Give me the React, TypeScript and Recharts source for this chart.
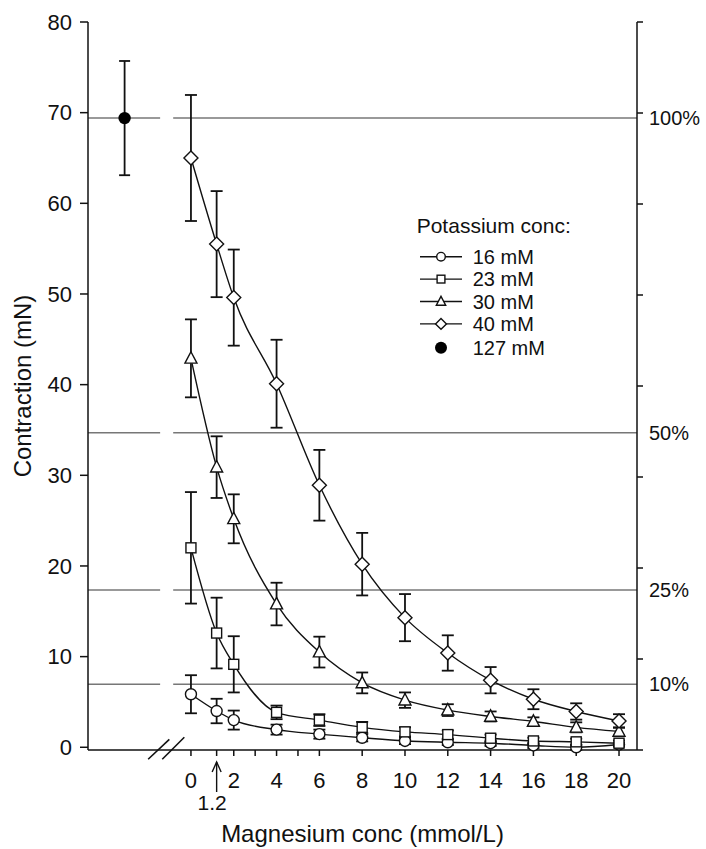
import React from "react";
import { ComposedChart, Line, Scatter, XAxis, YAxis, ErrorBar, ReferenceLine, Legend } from "recharts";

// Magnesium concentrations (mmol/L)
const MG = [0, 1.2, 2, 4, 6, 8, 10, 12, 14, 16, 18, 20];

// contraction (mN) per potassium concentration, mean and SEM
const K16 = [5.85, 4.0, 3.0, 1.95, 1.45, 1.05, 0.7, 0.55, 0.45, 0.2, 0.0, 0.3];
const K16_SEM = [2.1, 1.35, 1.05, 0.55, 0.5, 0.4, 0.35, 0.3, 0.3, 0.3, 0.3, 0.2];
const K23 = [22.0, 12.6, 9.15, 3.85, 3.0, 2.2, 1.7, 1.4, 1.0, 0.7, 0.6, 0.45];
const K23_SEM = [6.15, 3.9, 3.1, 0.75, 0.65, 0.6, 0.5, 0.45, 0.4, 0.35, 0.35, 0.3];
const K30 = [42.9, 30.9, 25.2, 15.8, 10.5, 7.1, 5.2, 4.1, 3.4, 2.85, 2.2, 1.75];
const K30_SEM = [4.3, 3.4, 2.7, 2.35, 1.7, 1.15, 0.85, 0.65, 0.55, 0.45, 0.55, 0.45];
const K40 = [65.0, 55.5, 49.6, 40.1, 28.9, 20.2, 14.3, 10.4, 7.4, 5.3, 3.95, 2.9];
const K40_SEM = [6.95, 5.85, 5.3, 4.85, 3.9, 3.45, 2.6, 1.95, 1.45, 1.1, 0.9, 0.75];

// 127 mM control, drawn left of the axis break
const CONTROL_MEAN = 69.4;
const CONTROL_SEM = 6.3;
const CONTROL_X = -3.1;

const PERCENTS = [100, 50, 25, 10];
const X_TICKS = [0, 1.2, 2, 3, 4, 5, 6, 8, 10, 12, 14, 16, 18, 20];
const Y_TICKS = [0, 10, 20, 30, 40, 50, 60, 70, 80];
const ARROW_TICK = 1.2;

const X_DOMAIN = [-4.81, 20.84];
const BREAK_GAP = [-1.44, -0.83];
const BREAK_MARKS = [
  [{ x: -2.0, y: -1.32 }, { x: -1.01, y: 0.88 }],
  [{ x: -1.34, y: -1.32 }, { x: -0.31, y: 1.1 }],
];

const INK = "#111";
const FONT = '"Liberation Sans", Arial, sans-serif';

const SERIES = [
  { key: "k16", label: "16 mM", values: K16, sem: K16_SEM, shape: "circle", size: 11 },
  { key: "k23", label: "23 mM", values: K23, sem: K23_SEM, shape: "square", size: 10 },
  { key: "k30", label: "30 mM", values: K30, sem: K30_SEM, shape: "triangle", size: 12 },
  { key: "k40", label: "40 mM", values: K40, sem: K40_SEM, shape: "diamond", size: 14 },
];

const rows = MG.map((mg, i) => {
  const r: Record<string, number> = { mg, pct: 0 };
  SERIES.forEach((s) => {
    r[s.key] = s.values[i];
    r[s.key + "Err"] = s.sem[i];
  });
  return r;
});

const control = [{ mg: CONTROL_X, ctrl: CONTROL_MEAN, ctrlErr: CONTROL_SEM }];

function Marker({ shape, cx, cy, size, fill = "#fff" }: any) {
  const h = size / 2;
  const common = { fill, stroke: INK, strokeWidth: 1.4 };
  if (shape === "circle") return <circle cx={cx} cy={cy} r={h} {...common} />;
  if (shape === "square") return <rect x={cx - h} y={cy - h} width={size} height={size} {...common} />;
  if (shape === "triangle")
    return <polygon points={`${cx},${cy - size * 0.55} ${cx + h},${cy + size * 0.4} ${cx - h},${cy + size * 0.4}`} {...common} />;
  return <polygon points={`${cx},${cy - h} ${cx + h},${cy} ${cx},${cy + h} ${cx - h},${cy}`} {...common} />;
}

function MgTick({ x, y, payload }: any) {
  const v = payload.value;
  if (v === ARROW_TICK) {
    return (
      <g stroke={INK} strokeWidth={1.4}>
        <line x1={x} y1={y + 4} x2={x} y2={y + 34} />
        <polyline points={`${x - 4.5},${y + 14} ${x},${y + 4} ${x + 4.5},${y + 14}`} fill="none" />
        <text x={x - 4.5} y={y + 37} dy="0.71em" textAnchor="middle" fontSize={21} fill={INK} stroke="none">
          {v}
        </text>
      </g>
    );
  }
  if (v % 2 !== 0) return <g />;
  return (
    <text x={x} y={y + 14} dy="0.71em" textAnchor="middle" fontSize={22} fill={INK}>
      {v}
    </text>
  );
}

function BlankTick() {
  return <g />;
}

function KeyBox() {
  const rowY = (i: number) => 44.7 + i * 22.4;
  return (
    <svg width={200} height={150} style={{ display: "block", overflow: "visible", fontFamily: FONT }}>
      <text x={6.7} y={21} fontSize={21} fill={INK}>
        Potassium conc:
      </text>
      {SERIES.map((s, i) => (
        <g key={s.key}>
          <line x1={10} x2={52} y1={rowY(i)} y2={rowY(i)} stroke={INK} strokeWidth={1.4} />
          <Marker shape={s.shape} cx={31} cy={rowY(i)} size={s.size * 0.78} />
          <text x={62.7} y={rowY(i)} dy="0.36em" fontSize={20} fill={INK}>
            {s.label}
          </text>
        </g>
      ))}
      <circle cx={31} cy={rowY(4) + 1.5} r={6} fill="#000" />
      <text x={62.7} y={rowY(4) + 1.5} dy="0.36em" fontSize={20} fill={INK}>
        127 mM
      </text>
    </svg>
  );
}

export default function App() {
  return (
    <div style={{ position: "absolute", left: 0, top: 0, width: 706, height: 849, background: "#fff", fontFamily: FONT }}>
      <ComposedChart width={706} height={849} data={rows} margin={{ top: 22, right: 9, bottom: 0, left: 8 }}>
        {PERCENTS.map((p) => {
          const y = (CONTROL_MEAN * p) / 100;
          return (
            <React.Fragment key={p}>
              <ReferenceLine
                yAxisId="left"
                segment={[{ x: X_DOMAIN[0], y }, { x: BREAK_GAP[0], y }]}
                stroke="#777"
                strokeWidth={1.5}
              />
              <ReferenceLine
                yAxisId="left"
                segment={[{ x: BREAK_GAP[1], y }, { x: X_DOMAIN[1], y }]}
                stroke="#777"
                strokeWidth={1.5}
                label={{ value: `${p}%`, position: "right", offset: 12, fill: INK, fontSize: 20 }}
              />
            </React.Fragment>
          );
        })}
        {BREAK_MARKS.map((seg, i) => (
          <ReferenceLine key={`brk${i}`} yAxisId="left" segment={seg} ifOverflow="visible" stroke={INK} strokeWidth={1.6} />
        ))}
        <XAxis
          dataKey="mg"
          type="number"
          domain={X_DOMAIN}
          ticks={X_TICKS}
          interval={0}
          allowDataOverflow
          height={99}
          tickSize={6}
          tick={<MgTick />}
          axisLine={{ stroke: INK, strokeWidth: 1.5 }}
          tickLine={{ stroke: INK, strokeWidth: 1.5 }}
          label={{ value: "Magnesium conc (mmol/L)", position: "insideBottom", offset: 7, fontSize: 24, fill: INK }}
        />
        <YAxis
          yAxisId="left"
          domain={[0, 80]}
          ticks={Y_TICKS}
          width={80}
          tickSize={8}
          tickMargin={8}
          tick={{ fontSize: 22, fill: INK }}
          axisLine={{ stroke: INK, strokeWidth: 1.5 }}
          tickLine={{ stroke: INK, strokeWidth: 1.5 }}
          label={{
            value: "Contraction (mN)",
            angle: -90,
            position: "insideLeft",
            offset: 14,
            style: { textAnchor: "middle" },
            fontSize: 24,
            fill: INK,
          }}
        />
        <YAxis
          yAxisId="right"
          orientation="right"
          domain={[0, 80]}
          ticks={Y_TICKS}
          interval={0}
          allowDataOverflow
          width={60}
          tickSize={6}
          tick={<BlankTick />}
          axisLine={{ stroke: INK, strokeWidth: 1.5 }}
          tickLine={{ stroke: INK, strokeWidth: 1.5 }}
        />
        {/* invisible series so the right axis has something to scale */}
        <Line yAxisId="right" dataKey="pct" stroke="none" dot={false} activeDot={false} legendType="none" isAnimationActive={false} />
        {SERIES.map((s) => (
          <Line
            key={s.key}
            yAxisId="left"
            dataKey={s.key}
            type="monotone"
            stroke={INK}
            strokeWidth={1.4}
            isAnimationActive={false}
            activeDot={false}
            legendType="none"
            dot={(p: any) => <Marker key={`${s.key}-${p.index}`} shape={s.shape} cx={p.cx} cy={p.cy} size={s.size} />}
          >
            <ErrorBar dataKey={s.key + "Err"} width={6} strokeWidth={1.8} stroke={INK} direction="y" />
          </Line>
        ))}
        <Scatter
          yAxisId="left"
          data={control}
          dataKey="ctrl"
          isAnimationActive={false}
          legendType="none"
          shape={(p: any) => <circle cx={p.cx} cy={p.cy} r={6.2} fill="#000" />}
        >
          <ErrorBar dataKey="ctrlErr" width={5.5} strokeWidth={1.8} stroke={INK} direction="y" />
        </Scatter>
        <Legend
          layout="vertical"
          align="center"
          verticalAlign="middle"
          wrapperStyle={{ left: 410, top: 212, width: 200 }}
          content={() => <KeyBox />}
        />
      </ComposedChart>
    </div>
  );
}
